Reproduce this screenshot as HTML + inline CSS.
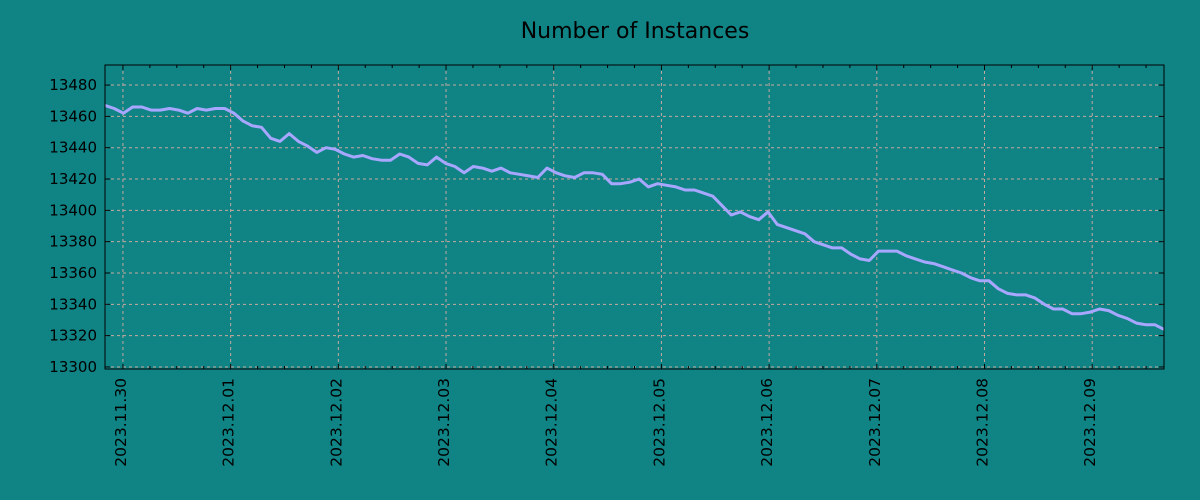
<!DOCTYPE html>
<html><head><meta charset="utf-8"><style>
body{margin:0;background:#108385;}
svg{display:block;font-family:"DejaVu Sans","Liberation Sans",sans-serif;}
</style></head><body>
<svg id="chart" width="1200" height="500">
<rect width="1200" height="500" fill="#108385"/>
<text x="635" y="38" text-anchor="middle" font-size="22" fill="#000">Number of Instances</text>
<g id="grid"></g><g id="axes"></g><g id="series"></g>
<rect x="105" y="65" width="1059" height="304" fill="none" stroke="#000" stroke-width="1"/>
</svg>
<script>
const dateLabels=["2023.11.30","2023.12.01","2023.12.02","2023.12.03","2023.12.04","2023.12.05","2023.12.06","2023.12.07","2023.12.08","2023.12.09"];
const yTicks=[13300,13320,13340,13360,13380,13400,13420,13440,13460,13480];
const startHour=-4, endHour=232;
const values=[13467,13465,13462,13466,13466,13464,13464,13465,13464,13462,13465,13464,13465,13465,13462,13457,13454,13453,13446,13444,13449,13444,13441,13437,13440,13439,13436,13434,13435,13433,13432,13432,13436,13434,13430,13429,13434,13430,13428,13424,13428,13427,13425,13427,13424,13423,13422,13421,13427,13424,13422,13421,13424,13424,13423,13417,13417,13418,13420,13415,13417,13416,13415,13413,13413,13411,13409,13403,13397,13399,13396,13394,13399,13391,13389,13387,13385,13380,13378,13376,13376,13372,13369,13368,13374,13374,13374,13371,13369,13367,13366,13364,13362,13360,13357,13355,13355,13350,13347,13346,13346,13344,13340,13337,13337,13334,13334,13335,13337,13336,13333,13331,13328,13327,13327,13324];
const NS="http://www.w3.org/2000/svg";
const L=105,R=1164,T=65,B=369;
const hMin=-4,hMax=232;
const yMin=13298.7,yMax=13492.8;
const xs=h=>L+(h-hMin)/(hMax-hMin)*(R-L);
const ys=v=>B-(v-yMin)/(yMax-yMin)*(B-T);
function mk(t,a,p){const e=document.createElementNS(NS,t);for(const k in a)e.setAttribute(k,a[k]);p.appendChild(e);return e;}
const grid=document.getElementById('grid'),axes=document.getElementById('axes'),ser=document.getElementById('series');
yTicks.forEach(v=>{const y=ys(v);
 const g=mk('line',{x1:L,x2:R,y1:y,y2:y,stroke:'#c8a8a0','stroke-dasharray':'3,3','stroke-width':1},grid);
 
 
 mk('line',{x1:L,x2:L+5,y1:y,y2:y,stroke:'#000'},axes);
 mk('line',{x1:R-5,x2:R,y1:y,y2:y,stroke:'#000'},axes);
 const t=mk('text',{x:97,y:y+5,'text-anchor':'end','font-size':15,fill:'#000'},axes);
 t.textContent=v;
 
 
});
for(let h=0;h<=hMax;h+=6){const x=xs(h);
 mk('line',{x1:x,x2:x,y1:T,y2:T+(h%24?3:5),stroke:'#000'},axes);
 mk('line',{x1:x,x2:x,y1:B,y2:B-(h%24?3:5),stroke:'#000'},axes);}
dateLabels.forEach((d,i)=>{const x=xs(i*24);
 const g=mk('line',{x1:x,x2:x,y1:T,y2:B,stroke:'#c8a8a0','stroke-dasharray':'3,3','stroke-width':1},grid);
 
 
 const t=mk('text',{x:0,y:0,'text-anchor':'end','font-size':15.5,fill:'#000',transform:`translate(${x+3},378) rotate(-90)`},axes);
 t.textContent=d;
 
 
});
const n=values.length;
const pts=values.map((v,i)=>{const h=startHour+i*(endHour-startHour)/(n-1);return xs(h).toFixed(1)+','+ys(v).toFixed(1);}).join(' ');
const line=mk('polyline',{points:pts,fill:'none',stroke:'#a7a7ff','stroke-width':3,'stroke-linejoin':'round'},ser);


</script>
</body></html>
